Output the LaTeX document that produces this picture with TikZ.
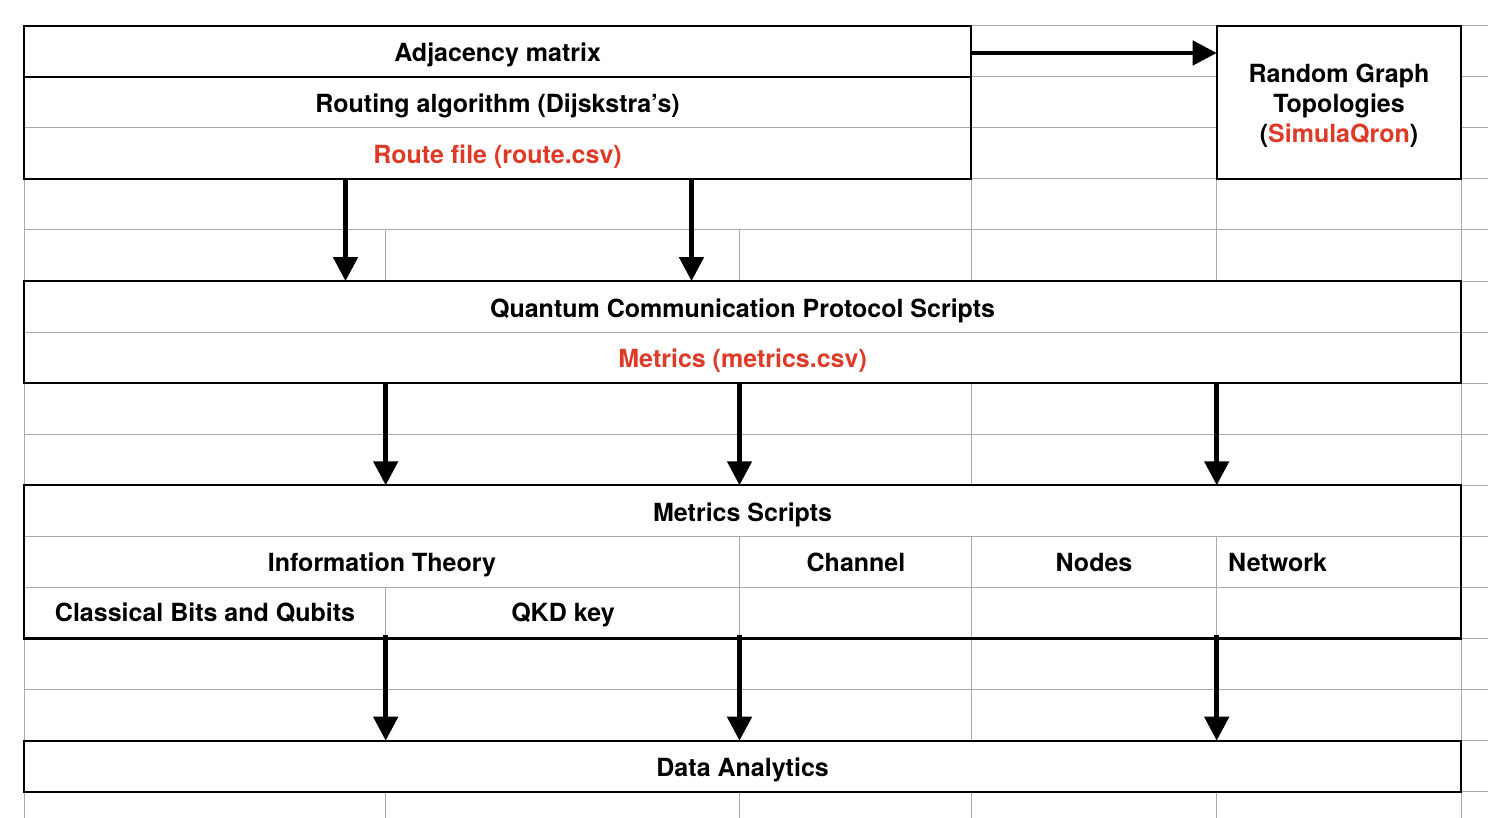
\documentclass[tikz,border=0pt]{standalone}
\usepackage{fontspec}
\setmainfont{TeX Gyre Heros}
\usetikzlibrary{arrows.meta}
\definecolor{cellred}{RGB}{222,58,40}
\definecolor{gridgray}{RGB}{170,170,170}

\begin{document}
\begin{tikzpicture}[x=1pt,y=-1pt,
  grid/.style={draw=gridgray,line width=1pt},
  frame/.style={draw=black,line width=2.2pt,rectangle,inner sep=0pt,outer sep=0pt,anchor=north west},
  divider/.style={draw=black,line width=2.2pt},
  lbl/.style={font=\fontsize{25}{30}\selectfont\bfseries,inner sep=0pt,text=black,anchor=base},
  redlbl/.style={lbl,text=cellred},
  flow/.style={line width=4.8pt,-{Triangle[length=24pt,width=24pt]}}
]
\useasboundingbox (0,0) rectangle (1488,818);

% spreadsheet grid: horizontal rules
\foreach \k in {0,...,15}
  \draw[grid] (24,{25.7+51.07*\k}) -- (1488,{25.7+51.07*\k});
% vertical rules (only where cells are not merged)
\draw[grid] (24,25.7) -- (24,818);
\draw[grid] (1461.3,25.7) -- (1461.3,818);
\foreach \x in {385.7,739.5} {
  \draw[grid] (\x,230.0) -- (\x,281.1);
  \draw[grid] (\x,383.2) -- (\x,485.3);
  \draw[grid] (\x,587.5) -- (\x,740.7);
  \draw[grid] (\x,791.7) -- (\x,818);
}
\draw[grid] (739.5,536.4) -- (739.5,587.5);
\foreach \x in {971.3,1216.7} {
  \draw[grid] (\x,25.7) -- (\x,281.1);
  \draw[grid] (\x,383.2) -- (\x,485.3);
  \draw[grid] (\x,536.4) -- (\x,740.7);
  \draw[grid] (\x,791.7) -- (\x,818);
}

% boxes
\node[frame,minimum width=947.3pt,minimum height=153.2pt] (top) at (24,25.7) {};
\node[frame,fill=white,minimum width=244.6pt,minimum height=153.2pt] (random) at (1216.7,25.7) {};
\node[frame,minimum width=1437.3pt,minimum height=102.1pt] (quantum) at (24,281.1) {};
\node[frame,minimum width=1437.3pt,minimum height=153.2pt] (metrics) at (24,485.3) {};
\node[frame,minimum width=1437.3pt,minimum height=51pt] (data) at (24,740.7) {};
\draw[divider] ([yshift=-51.1pt]top.north west) -- ([yshift=-51.1pt]top.north east);

% labels
\node[lbl] (adj) at (497.6,61.4) {Adjacency matrix};
\node[lbl] (routing) at (497.6,112.5) {Routing algorithm (Dijskstra’s)};
\node[redlbl] (routefile) at (497.6,163.5) {Route file (route.csv)};
\node[lbl,anchor=center,align=center] (randlbl) at (1339,105.5)
  {Random Graph\\Topologies\\(\textcolor{cellred}{SimulaQron})};
\node[lbl] (qcps) at (742.6,317) {Quantum Communication Protocol Scripts};
\node[redlbl] (mcsv) at (742.6,367.8) {Metrics (metrics.csv)};
\node[lbl] (mscripts) at (742.6,521) {Metrics Scripts};
\node[lbl] (info) at (382,571.9) {Information Theory};
\node[lbl] (channel) at (856,571.9) {Channel};
\node[lbl] (nodes) at (1094,571.9) {Nodes};
\node[lbl,anchor=base west] (network) at (1228,571.9) {Network};
\node[lbl] (classical) at (205,621.6) {Classical Bits and Qubits};
\node[lbl] (qkd) at (563,621.6) {QKD key};
\node[lbl] (analytics) at (742.6,776) {Data Analytics};

% connectors
\draw[flow] ([yshift=-27.3pt]top.north east) -- ([yshift=-27.3pt]random.north west);
\foreach \s in {321.5,667.5}
  \draw[flow] ([xshift=\s pt]top.south west) -- ([xshift=\s pt]quantum.north west);
\foreach \s in {361.7,715.5,1192.7} {
  \draw[flow] ([xshift=\s pt]quantum.south west) -- ([xshift=\s pt]metrics.north west);
  \draw[flow] ([xshift=\s pt,yshift=4pt]metrics.south west) -- ([xshift=\s pt]data.north west);
}
\end{tikzpicture}
\end{document}
